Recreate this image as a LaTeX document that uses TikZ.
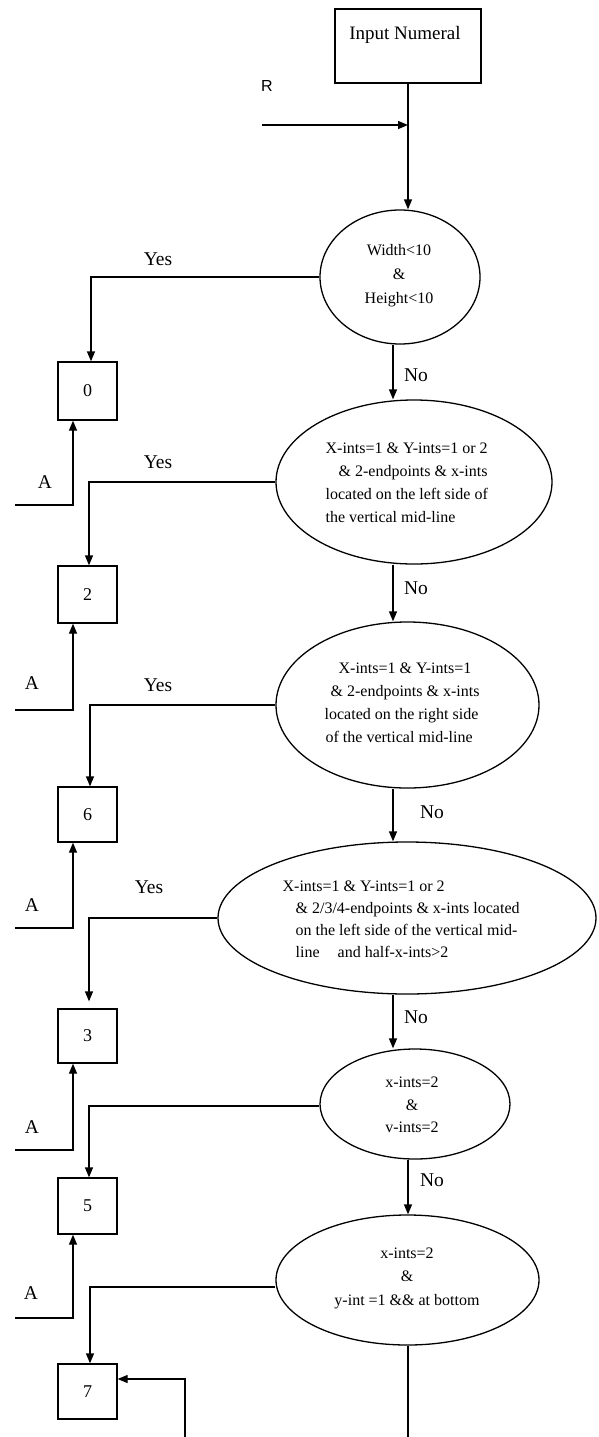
\documentclass[tikz,border=0pt]{standalone}
\usepackage{fontspec}
\setmainfont{Liberation Serif}
\newfontfamily\sansR{Liberation Sans}
\usetikzlibrary{arrows.meta,shapes.geometric}
\begin{document}
\begin{tikzpicture}[x=1pt,y=-1pt,
  line width=1.3pt,
  arr/.style={-{Triangle[length=10pt,width=8pt]}},
  numbox/.style={draw,minimum width=59pt,inner sep=0pt,font=\fontsize{18}{20}\selectfont},
  cond/.style={draw,ellipse,inner sep=0pt},
  ctext/.style={font=\fontsize{16}{23}\selectfont,inner sep=0pt},
  lbl/.style={font=\fontsize{19.5}{21}\selectfont,inner sep=0pt}]
\useasboundingbox (0,0) rectangle (599,1437);

% start box
\node[draw,minimum width=146pt,minimum height=74pt,inner sep=0pt] (in) at (408,46) {};
\node[font=\fontsize{19}{21}\selectfont,inner sep=0pt] (intext) at (405,35) {Input Numeral};
\node[font=\sansR\fontsize{16}{18}\selectfont,inner sep=0pt] (lr) at (267,86) {R};

% decisions
\node[cond,minimum width=160pt,minimum height=134pt] (e1) at (400,277) {};
\node[cond,minimum width=276pt,minimum height=164pt] (e2) at (414,482) {};
\node[cond,minimum width=263pt,minimum height=166pt] (e3) at (407.5,705) {};
\node[cond,minimum width=378pt,minimum height=152pt] (e4) at (407,918) {};
\node[cond,minimum width=190pt,minimum height=110pt] (e5) at (415,1104) {};
\node[cond,minimum width=263pt,minimum height=130pt] (e6) at (407.5,1280) {};

\node[ctext,align=center,font=\fontsize{16}{24}\selectfont] (t1) at (399,276) {Width<10\\\&\\Height<10};
\node[ctext,align=left,anchor=west] (t2) at (325,483) {X-ints=1 \& Y-ints=1 or 2\\\hspace*{13pt}\& 2-endpoints \& x-ints\\located on the left side of\\the vertical mid-line};
\node[ctext,align=left,anchor=west] (t3) at (324,703) {\hspace*{14pt}X-ints=1 \& Y-ints=1\\\hspace*{6pt}\& 2-endpoints \& x-ints\\located on the right side\\\hspace*{1pt}of the vertical mid-line};
\node[ctext,align=left,anchor=west,font=\fontsize{16}{22}\selectfont] (t4) at (282,919) {X-ints=1 \& Y-ints=1 or 2\\\hspace*{13pt}\& 2/3/4-endpoints \& x-ints located\\\hspace*{13pt}on the left side of the vertical mid-\\\hspace*{13pt}line\hspace{18pt}and half-x-ints>2};
\node[ctext,align=center,font=\fontsize{16}{22.5}\selectfont] (t5) at (412,1105) {x-ints=2\\\&\\v-ints=2};
\node[ctext,align=center,font=\fontsize{16}{23.5}\selectfont] (t6) at (407,1278) {x-ints=2\\\&\\y-int =1 \&\& at bottom};

% result boxes
\node[numbox,minimum height=58pt] (b0) at (87.5,391) {0};
\node[numbox,minimum height=57pt] (b2) at (87.5,594.5) {2};
\node[numbox,minimum height=55pt] (b6) at (87.5,814.5) {6};
\node[numbox,minimum height=54pt] (b3) at (87.5,1036) {3};
\node[numbox,minimum height=56pt] (b5) at (87.5,1206) {5};
\node[numbox,minimum height=55pt] (b7) at (87.5,1391.5) {7};

% main flow
\draw[arr] (in.south) -- (in.south |- e1.north);
\coordinate (bS) at (262,125);
\draw[arr] (bS) -- (bS -| in.south);

\coordinate (n1) at ([xshift=-7pt]e1.south);
\draw[arr] (n1) -- (n1 |- e2.north);
\coordinate (n2) at ([xshift=-21pt]e2.south);
\draw[arr] (n2) -- (n2 |- e3.north);
\coordinate (n3) at ([xshift=-14.5pt]e3.south);
\draw[arr] (n3) -- (n3 |- e4.north);
\coordinate (n4) at ([xshift=-14pt]e4.south);
\draw[arr] (n4) -- (n4 |- e5.north);
\coordinate (n5) at ([xshift=-7pt]e5.south);
\draw[arr] (n5) -- (n5 |- e6.north);
\coordinate (n6) at ([xshift=0.5pt]e6.south);
\coordinate (endD) at (408,1437);
\draw (n6) -- (endD);

% yes branches
\draw[arr] (e1.west) -| ([xshift=3.5pt]b0.north);
\draw[arr] (e2.west) -| ([xshift=1.5pt]b2.north);
\draw[arr] (e3.west) -| ([xshift=2.5pt]b6.north);
\draw[arr] (e4.west) -| ([xshift=1.5pt,yshift=7pt]b3.north);
\draw[arr] ([yshift=-2pt]e5.west) -| ([xshift=1.5pt]b5.north);
\draw[arr] ([yshift=-7pt]e6.west) -| ([xshift=2.5pt]b7.north);

% A connectors
\coordinate (a0) at (15,505);
\coordinate (a2) at (15,710);
\coordinate (a6) at (15,928);
\coordinate (a3) at (15,1150);
\coordinate (a5) at (15,1318);
\draw[arr] (a0) -| ([xshift=-14.5pt]b0.south);
\draw[arr] (a2) -| ([xshift=-14.5pt]b2.south);
\draw[arr] (a6) -| ([xshift=-14.5pt]b6.south);
\draw[arr] (a3) -| ([xshift=-14.5pt]b3.south);
\draw[arr] (a5) -| ([xshift=-14.5pt]b5.south);

\coordinate (fD) at (185,1437);
\draw[arr] (fD) |- ([yshift=12.5pt]b7.east);

% labels
\node[lbl] (y1) at (158,259) {Yes};
\node[lbl] (y2) at (158,462) {Yes};
\node[lbl] (y3) at (158,685) {Yes};
\node[lbl] (y4) at (149,887) {Yes};
\node[lbl] (no1) at (416,375) {No};
\node[lbl] (no2) at (416,588) {No};
\node[lbl] (no3) at (432,812) {No};
\node[lbl] (no4) at (416,1017) {No};
\node[lbl] (no5) at (432,1180) {No};
\node[lbl] (la0) at (45,482) {A};
\node[lbl] (la2) at (32,683) {A};
\node[lbl] (la6) at (32,905) {A};
\node[lbl] (la3) at (32,1127) {A};
\node[lbl] (la5) at (31,1293) {A};
\end{tikzpicture}
\end{document}
